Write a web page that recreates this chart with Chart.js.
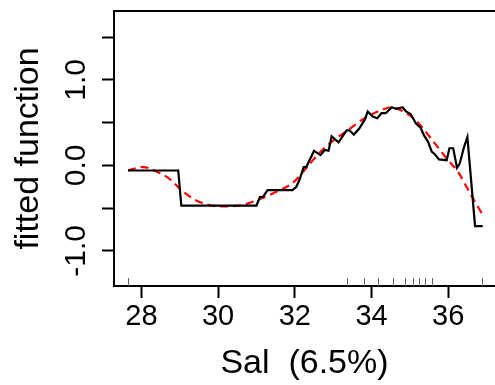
<!DOCTYPE html>
<html>
<head>
<meta charset="utf-8">
<script src="https://cdn.jsdelivr.net/npm/chart.js@4/dist/chart.umd.min.js"></script>
<style>
  html, body { margin: 0; padding: 0; background: #fff; }
  #c { display: block; }
</style>
</head>
<body>
<canvas id="c" width="495" height="385"></canvas>
<script>
    "use strict";

    // partial fit (black step line)
    const salFit = [27.65, 28.96, 29.04, 31.0, 31.09, 31.17, 31.29, 31.94, 32.04, 32.13, 32.23, 32.3,
        32.5, 32.67, 32.78, 32.88, 32.96, 33.14, 33.35, 33.42, 33.54, 33.68, 33.83, 33.9, 34.03,
        34.15, 34.26, 34.37, 34.53, 34.65, 34.81, 34.9, 35.02, 35.16, 35.28, 35.37, 35.48, 35.57,
        35.65, 35.76, 35.96, 36.03, 36.13, 36.23, 36.3, 36.41, 36.5, 36.7, 36.9];
    const fitValues = [-0.06, -0.06, -0.47, -0.47, -0.37, -0.37, -0.29, -0.29, -0.25, -0.16, -0.02, -0.02,
        0.17, 0.12, 0.18, 0.17, 0.34, 0.27, 0.41, 0.41, 0.36, 0.43, 0.54, 0.63, 0.57,
        0.55, 0.61, 0.61, 0.68, 0.66, 0.68, 0.63, 0.60, 0.49, 0.44, 0.35, 0.27, 0.16,
        0.13, 0.07, 0.06, 0.20, 0.20, -0.03, 0.02, 0.21, 0.33, -0.71, -0.71];

    // smooth curve (red dashed)
    const salSmooth = [27.65, 28.04, 28.43, 28.74, 29.04, 29.43, 30.04, 30.56, 31.0, 31.52, 31.96, 32.3,
        32.65, 33.0, 33.35, 33.78, 34.22, 34.52, 34.83, 35.17, 35.61, 35.96, 36.26, 36.56, 36.9];
    const smoothValues = [-0.06, -0.02, -0.08, -0.16, -0.29, -0.41, -0.48, -0.47, -0.41, -0.31, -0.20, -0.03,
        0.15, 0.29, 0.40, 0.54, 0.64, 0.68, 0.63, 0.52, 0.28, 0.08, -0.08, -0.32, -0.58];

    // rug of observed Sal values
    const rugSal = [27.65, 33.37, 33.80, 34.18, 34.57, 34.88, 35.07, 35.23, 35.40, 35.57, 36.89];

    const xTicks = [28, 30, 32, 34, 36];
    const yTicks = [-1.0, -0.5, 0.0, 0.5, 1.0, 1.5];
    const yTickLabels = ["-1.0", "", "0.0", "", "1.0", ""];

    const FONT = "'Liberation Sans', Arial, sans-serif";
    const X_MIN = 27.285, X_MAX = 37.22;
    const Y_MIN = -1.411, Y_MAX = 1.805;

    function points(xs, ys) {
        return xs.map((x, i) => ({ x: x, y: ys[i] }));
    }

    function noPadding(s) {
        s.paddingTop = 0;
        s.paddingBottom = 0;
        s.paddingLeft = 0;
        s.paddingRight = 0;
    }

    const rugPlugin = {
        id: "rug",
        afterDatasetsDraw(chart) {
            const ctx = chart.ctx;
            const xs = chart.scales.x;
            const bottom = chart.chartArea.bottom;
            ctx.save();
            ctx.strokeStyle = "#666";
            ctx.lineWidth = 1;
            rugSal.forEach(v => {
                const px = Math.round(xs.getPixelForValue(v)) + 0.5;
                ctx.beginPath();
                ctx.moveTo(px, bottom);
                ctx.lineTo(px, bottom - 8);
                ctx.stroke();
            });
            ctx.restore();
        }
    };

    new Chart(document.getElementById("c").getContext("2d"), {
        type: "line",
        data: {
            datasets: [{
                data: points(salFit, fitValues),
                borderColor: "#000",
                borderWidth: 2.2,
                pointRadius: 0,
                tension: 0,
                fill: false
            }, {
                data: points(salSmooth, smoothValues),
                borderColor: "#ff0000",
                borderWidth: 2.2,
                borderDash: [8, 5],
                pointRadius: 0,
                tension: 0.4,
                cubicInterpolationMode: "monotone",
                fill: false
            }]
        },
        options: {
            responsive: false,
            animation: false,
            devicePixelRatio: 1,
            layout: { padding: 0 },
            plugins: { legend: { display: false }, tooltip: { enabled: false } },
            scales: {
                x: {
                    type: "linear",
                    position: "bottom",
                    min: X_MIN,
                    max: X_MAX,
                    afterBuildTicks: s => { s.ticks = xTicks.map(v => ({ value: v })); },
                    afterFit: s => { s.height = 99; noPadding(s); },
                    grid: { drawOnChartArea: false, drawTicks: true, tickLength: 12, tickColor: "#000", tickWidth: 2 },
                    border: { display: true, color: "#000", width: 2 },
                    ticks: {
                        color: "#000",
                        padding: 2,
                        maxRotation: 0,
                        autoSkip: false,
                        font: { family: FONT, size: 29 },
                        callback: v => String(v)
                    },
                    title: {
                        display: true,
                        text: "Sal  (6.5%)",
                        color: "#000",
                        font: { family: FONT, size: 34 },
                        padding: { top: 0, bottom: 1.4 }
                    }
                },
                x2: {
                    type: "linear",
                    position: "top",
                    min: X_MIN,
                    max: X_MAX,
                    afterFit: s => { s.height = 11; noPadding(s); },
                    grid: { drawOnChartArea: false, drawTicks: false },
                    border: { display: true, color: "#000", width: 2 },
                    ticks: { display: false }
                },
                y: {
                    type: "linear",
                    position: "left",
                    min: Y_MIN,
                    max: Y_MAX,
                    afterBuildTicks: s => { s.ticks = yTicks.map(v => ({ value: v })); },
                    afterFit: s => { s.width = 114; noPadding(s); },
                    grid: { drawOnChartArea: false, drawTicks: true, tickLength: 12, tickColor: "#000", tickWidth: 2 },
                    border: { display: true, color: "#000", width: 2 },
                    ticks: {
                        color: "#000",
                        padding: -1,
                        minRotation: 90,
                        maxRotation: 90,
                        crossAlign: "center",
                        autoSkip: false,
                        font: { family: FONT, size: 30 },
                        callback: (v, i) => yTickLabels[i]
                    },
                    title: {
                        display: true,
                        text: "fitted function",
                        color: "#000",
                        font: { family: FONT, size: 34 },
                        padding: { top: 8, bottom: 0 }
                    }
                }
            }
        },
        plugins: [rugPlugin]
    });
</script>
</body>
</html>
